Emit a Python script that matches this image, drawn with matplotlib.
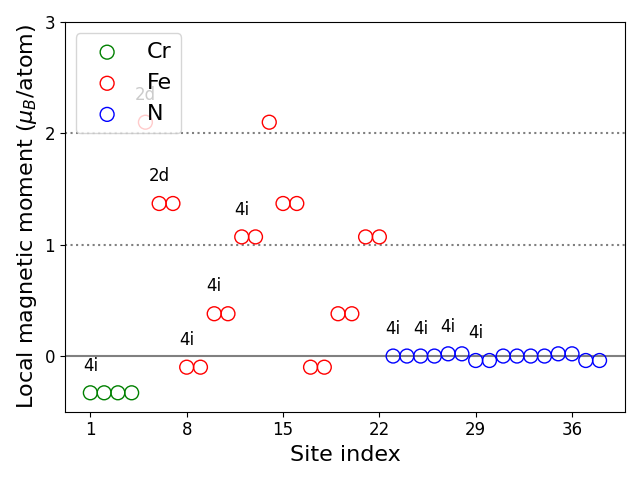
import matplotlib
matplotlib.use("Agg")
import matplotlib.pyplot as plt

cr_sites = [1, 2, 3, 4]
cr_moments = [-0.33, -0.33, -0.33, -0.33]
fe_sites = list(range(5, 23))
fe_moments = [2.10, 1.37, 1.37, -0.10, -0.10, 0.38, 0.38, 1.07, 1.07,
              2.10, 1.37, 1.37, -0.10, -0.10, 0.38, 0.38, 1.07, 1.07]
n_sites = list(range(23, 39))
n_moments = [0.0, 0.0, 0.0, 0.0, 0.02, 0.02, -0.04, -0.04,
             0.0, 0.0, 0.0, 0.0, 0.02, 0.02, -0.04, -0.04]

label_sites = [1, 8, 10, 12, 6, 5, 23, 25, 27, 29]
label_moments = [-0.33, -0.10, 0.38, 1.07, 1.37, 2.10, 0.0, 0.0, 0.02, -0.04]
label_texts = ["4i", "4i", "4i", "4i", "2d", "2d", "4i", "4i", "4i", "4i"]

xticks = [1, 8, 15, 22, 29, 36]
yticks = [0, 1, 2, 3]

fig, ax = plt.subplots(figsize=(6.4, 4.8), dpi=100)
ax.axhline(0, color="gray", lw=1.5, zorder=1)
ax.axhline(1, color="gray", lw=1.5, ls=":", zorder=1)
ax.axhline(2, color="gray", lw=1.5, ls=":", zorder=1)

ax.scatter(cr_sites, cr_moments, s=100, facecolors="none", edgecolors="green", label="Cr", zorder=2)
ax.scatter(fe_sites, fe_moments, s=100, facecolors="none", edgecolors="red", label="Fe", zorder=2)
ax.scatter(n_sites, n_moments, s=100, facecolors="none", edgecolors="blue", label="N", zorder=2)

for xs, ys, t in zip(label_sites, label_moments, label_texts):
    ax.text(xs, ys + 0.2, t, ha="center", va="baseline", fontsize=12)

ax.set_ylim(-0.5, 3)
ax.set_xticks(xticks)
ax.set_yticks(yticks)
ax.tick_params(labelsize=12)
ax.set_xlabel("Site index", fontsize=16)
ax.set_ylabel(r"Local magnetic moment ($\mu_B$/atom)", fontsize=16)
ax.legend(loc="upper left", fontsize=16)
fig.tight_layout()
fig.savefig("out.png")
